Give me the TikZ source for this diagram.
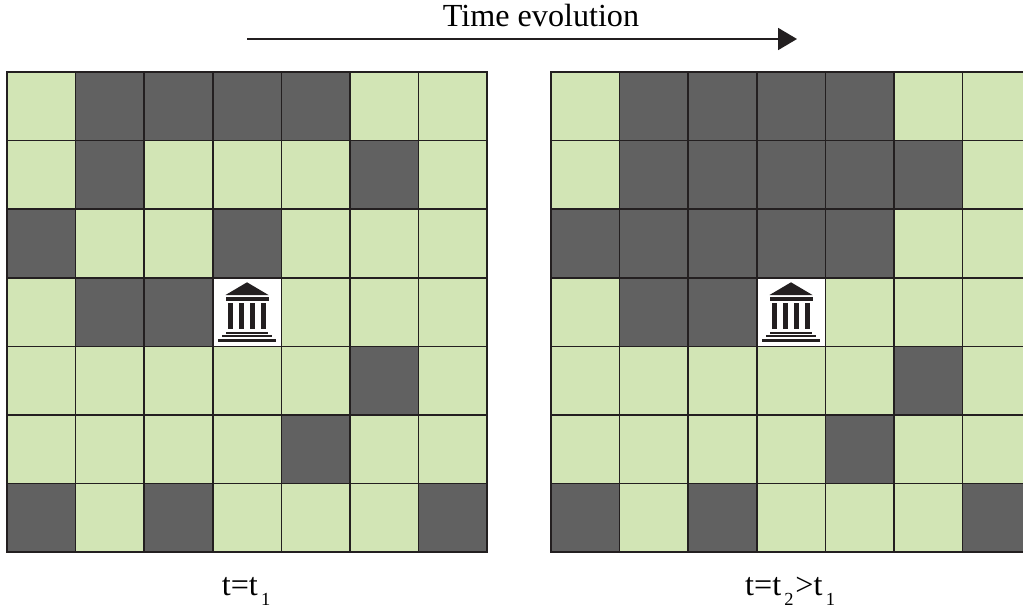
\documentclass[tikz,border=0pt]{standalone}
\usepackage{fontspec}
\setmainfont{Liberation Serif}
\usetikzlibrary{arrows.meta,positioning}
\definecolor{cellgreen}{HTML}{D2E5B5}
\definecolor{celldark}{HTML}{616161}
\definecolor{inkblack}{HTML}{231F20}
\newcommand{\lowsub}[1]{\raisebox{-5.7pt}{\kern0.1em\fontsize{10.5}{12}\selectfont #1\kern0.1em}}

\begin{document}
\begin{tikzpicture}[
  cell/.style={rectangle, draw=inkblack, line width=0.9pt, minimum size=1.3714cm, inner sep=0pt, outer sep=0pt, fill=cellgreen},
  darkcell/.style={cell, fill=celldark},
  bankcell/.style={cell, fill=white},
  label/.style={font=\fontsize{18.3}{22}\selectfont, inner sep=0pt, anchor=base},
  arr/.style={-{Triangle[length=3.8mm, width=4.4mm]}, line width=1.1pt, inkblack},
  bank/.pic={
    \fill[inkblack] (-0.43,0.34) -- (0.43,0.34) -- (0,0.594) -- cycle;
    \fill[inkblack] (-0.43,0.226) rectangle (0.43,0.294);
    \foreach \xc in {-0.33,-0.11,0.11,0.33}
      \fill[inkblack] (\xc-0.05,-0.346) rectangle (\xc+0.05,0.186);
    \fill[inkblack] (-0.42,-0.434) rectangle (0.42,-0.394);
    \fill[inkblack] (-0.50,-0.506) rectangle (0.50,-0.454);
    \fill[inkblack] (-0.574,-0.594) rectangle (0.574,-0.534);
  }
]
  \clip (0,0) rectangle (20.46,12.2);

  % left grid
  \foreach \r in {0,...,6}
    \foreach \c in {0,...,6}
      \node[cell] (l\r\c) at (0.826+\c*1.3714, 10.074-\r*1.3714) {};
  \foreach \r/\c in {0/1,0/2,0/3,0/4,1/1,1/5,2/0,2/3,3/1,3/2,4/5,5/4,6/0,6/2,6/6}
    \node[darkcell] at (l\r\c) {};
  \node[bankcell] (lbank) at (l33) {};
  \pic at (lbank) {bank};

  % right grid
  \foreach \r in {0,...,6}
    \foreach \c in {0,...,6}
      \node[cell] (r\r\c) at (11.706+\c*1.3714, 10.074-\r*1.3714) {};
  \foreach \r/\c in {0/1,0/2,0/3,0/4,1/1,1/2,1/3,1/4,1/5,2/0,2/1,2/2,2/3,2/4,3/1,3/2,4/5,5/4,6/0,6/2,6/6}
    \node[darkcell] at (r\r\c) {};
  \node[bankcell] (rbank) at (r33) {};
  \pic at (rbank) {bank};

  % labels
  \node[label] (timelabel) at (10.82,11.66) {Time evolution};
  \node[label] (lefttime) at (4.94,0.30) {t=t\lowsub{1}};
  \node[label] (righttime) at (15.82,0.30) {t=t\lowsub{2}>t\lowsub{1}};

  % time arrow
  \coordinate (arrowstart) at (4.94,11.42);
  \coordinate (arrowend) at (15.94,11.42);
  \draw[arr] (arrowstart) -- (arrowend);
\end{tikzpicture}
\end{document}
